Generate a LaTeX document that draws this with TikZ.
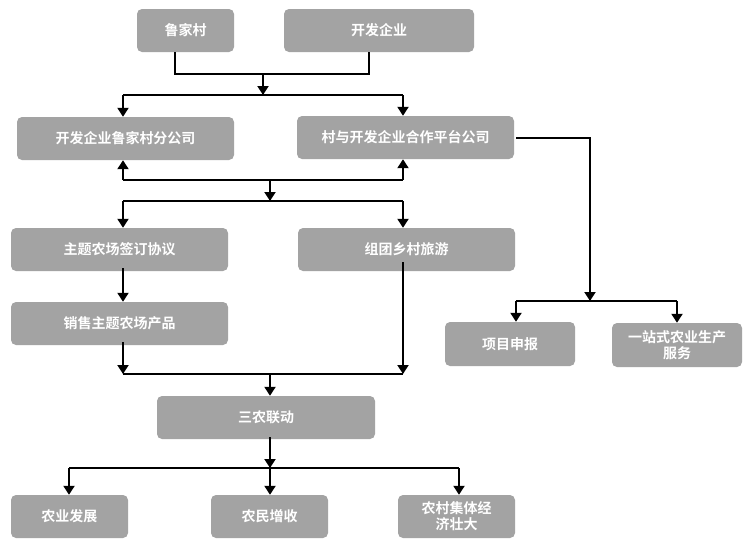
\documentclass[tikz,border=0pt]{standalone}
\usepackage{fontspec}
\newfontfamily\cjk{Noto Sans CJK SC}[BoldFont={Noto Sans CJK SC Bold}]
\usetikzlibrary{arrows.meta}
\definecolor{boxgray}{HTML}{A3A3A3}
\tikzset{
  box/.style={draw=none, fill=boxgray, rounded corners=5pt, text=white,
    font=\cjk\bfseries\fontsize{14}{16}\selectfont, align=center, inner sep=2pt},
  wbox/.style={box, minimum width=217pt, minimum height=43pt},
  sbox/.style={box, minimum width=117pt, minimum height=43pt},
  rbox/.style={box, minimum width=130pt, minimum height=44pt},
  conn/.style={line width=2pt, black},
  arr/.style={conn, -{Triangle[width=11pt,length=9pt]}}
}
\begin{document}
\begin{tikzpicture}[x=1pt,y=-1pt]
\useasboundingbox[fill=white] (0,0) rectangle (750,550);
% boxes
\node[box, minimum width=97pt, minimum height=43pt] (A) at (185.5,30.5) {鲁家村};
\node[box, minimum width=190pt, minimum height=43pt] (B) at (379,30.5) {开发企业};
\node[wbox] (C) at (125.5,138.5) {开发企业鲁家村分公司};
\node[wbox] (D) at (405.5,137.5) {村与开发企业合作平台公司};
\node[wbox] (E) at (119.5,249.5) {主题农场签订协议};
\node[wbox] (F) at (406.5,249.5) {组团乡村旅游};
\node[wbox] (G) at (119.5,323.5) {销售主题农场产品};
\node[box, minimum width=218pt, minimum height=43pt] (H) at (266,417.5) {三农联动};
\node[sbox] (I) at (69.5,516.5) {农业发展};
\node[sbox] (J) at (269.5,516.5) {农民增收};
\node[sbox] (K) at (456.5,516.5) {农村集体经\\济壮大};
\node[rbox] (L) at (510,344) {项目申报};
\node[rbox] (M) at (677,345) {一站式农业生产\\服务};
% junction coordinates
\coordinate (a1) at (175,74);
\coordinate (b1) at (369,74);
\coordinate (m1) at (263,74);
\coordinate (m2) at (263,95);
\coordinate (c1) at (123,95);
\coordinate (d1) at (403,95);
\coordinate (e1) at (123,180);
\coordinate (e2) at (403,180);
\coordinate (e3) at (270,180);
\coordinate (e4) at (270,201);
\coordinate (f1) at (123,201);
\coordinate (f2) at (403,201);
\coordinate (h1) at (123,374);
\coordinate (h2) at (403,374);
\coordinate (h3) at (270,374);
\coordinate (i0) at (270,468);
\coordinate (i1) at (69,468);
\coordinate (i2) at (459,468);
\coordinate (r1) at (590,301);
\coordinate (l1) at (516,301);
\coordinate (l2) at (677,301);
% top merge
\draw[conn] (a1 |- A.south) -- (a1) -- (b1) -- (b1 |- B.south);
\draw[arr] (m1) -- (m2);
\draw[conn] (c1) -- (d1);
\draw[arr] (c1) -- (c1 |- C.north);
\draw[arr] (d1) -- (d1 |- D.north);
% second level
\draw[conn] (e1) -- (e2);
\draw[arr] (e1) -- (e1 |- C.south);
\draw[arr] (e2) -- (e2 |- D.south);
\draw[arr] (e3) -- (e4);
\draw[conn] (f1) -- (f2);
\draw[arr] (f1) -- (f1 |- E.north);
\draw[arr] (f2) -- (f2 |- F.north);
% left chain
\draw[arr] ([yshift=3pt]c1 |- E.south) -- (c1 |- G.north);
\draw[arr] ([yshift=3pt]h1 |- G.south) -- (h1);
\draw[arr] ([yshift=9pt]h2 |- F.south) -- (h2);
\draw[conn] (h1) -- (h2);
\draw[arr] (h3) -- (h3 |- H.north);
% bottom
\draw[arr] ([yshift=2pt]i0 |- H.south) -- (i0);
\draw[conn] (i1) -- (i2);
\draw[arr] (i1) -- (i1 |- I.north);
\draw[arr] (i0) -- (i0 |- J.north);
\draw[arr] (i2) -- (i2 |- K.north);
% right branch
\draw[arr] ([xshift=2pt]D.east) -| (r1);
\draw[conn] (l1) -- (l2);
\draw[arr] (l1) -- (l1 |- L.north);
\draw[arr] (l2) -- (l2 |- M.north);
\end{tikzpicture}
\end{document}
